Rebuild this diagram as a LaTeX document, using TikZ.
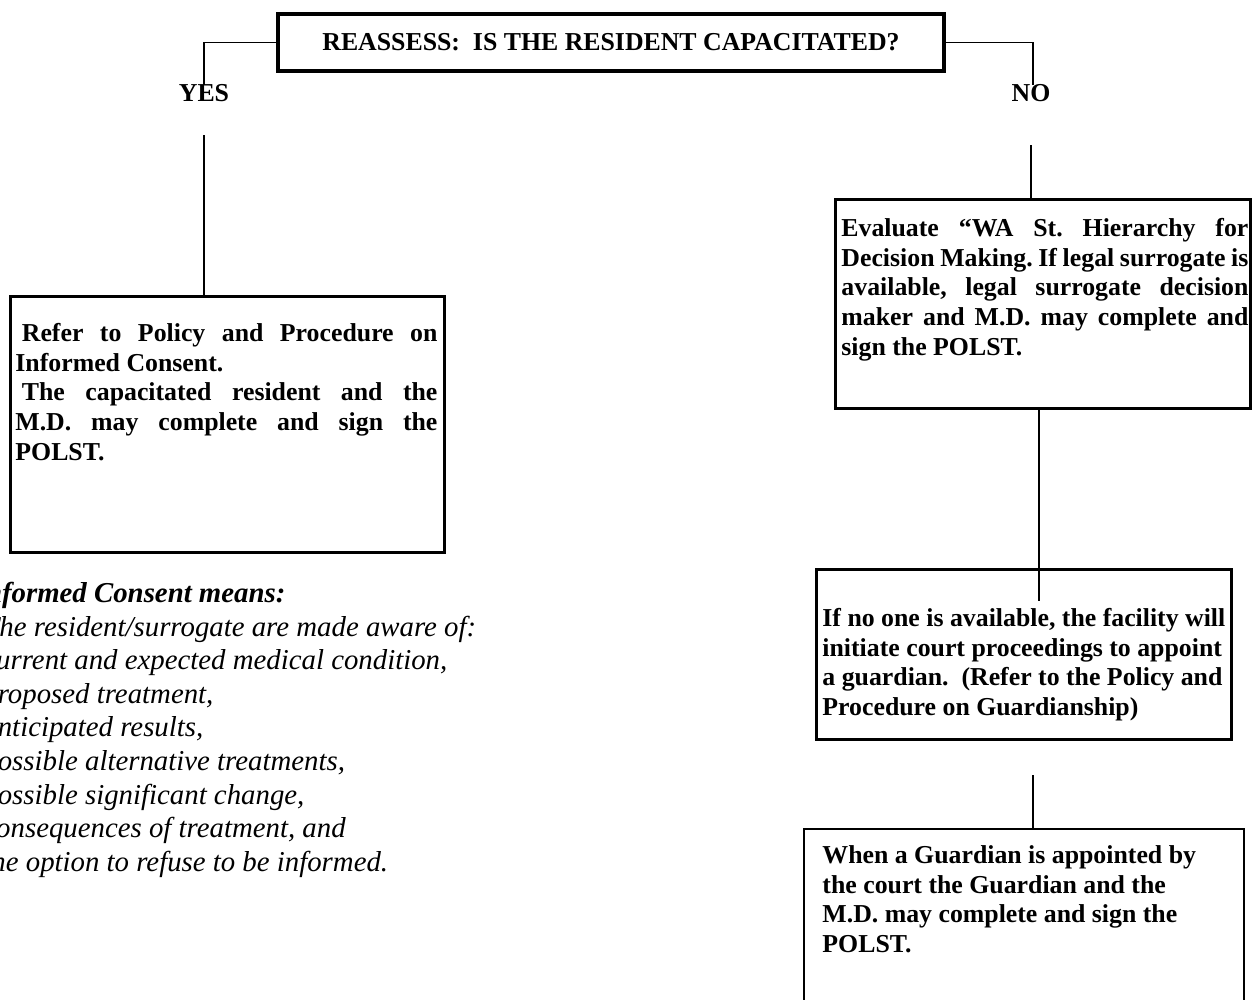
\documentclass[tikz,border=0pt]{standalone}
\usepackage{fontspec}
\setmainfont{Liberation Serif}
\hbadness=10000
\hfuzz=30pt
\frenchspacing
\begin{document}
\begin{tikzpicture}[x=0.465pt,y=-0.465pt,
  box/.style={draw,line width=1.5pt,rectangle,inner sep=0pt,anchor=north west},
  thinbox/.style={box,line width=0.7pt},
  link/.style={line width=0.8pt},
  body/.style={inner sep=0pt,anchor=north west,font=\fontsize{12}{13.8}\selectfont\bfseries},
  lbl/.style={inner sep=0pt,font=\fontsize{12}{13.8}\selectfont\bfseries},
  note/.style={inner sep=0pt,anchor=north west,align=left,font=\fontsize{13.4}{15.6}\selectfont\itshape}]
\useasboundingbox (0,0) rectangle (1253,999);
\clip (0,0) rectangle (1253,999);

% question box
\node[lbl,draw,line width=1.5pt,minimum width={666*0.465pt},minimum height={57*0.465pt}] (q) at (611,42.5)
  {REASSESS:\ \ IS THE RESIDENT CAPACITATED?};

% branches
\coordinate (yesend) at (204,85);
\coordinate (noend) at (1033,85);
\draw[link] (q.west) -| (yesend);
\draw[link] (q.east) -| (noend);
\node[lbl] (yes) at (204,93) {YES};
\node[lbl] (no) at (1031,93) {NO};

% YES side
\node[box,minimum width={434*0.465pt},minimum height={256*0.465pt}] (lb) at (9,295) {};
\coordinate (yesstart) at (204,135);
\draw[link] (yesstart) -- (yesstart |- lb.north);
\node[body,text width={422*0.465pt},align=justify] (lbt) at (15,323)
  {\hspace*{3pt}Refer to Policy and Procedure on\linebreak Informed Consent.\\
   \hspace*{3pt}The capacitated resident and the\linebreak M.D. may complete and sign the\linebreak POLST.};

\node[note] (ic) at (-17,582)
  {\hspace*{-4pt}{\bfseries Informed Consent means:}\\
   The resident/surrogate are made aware of:\\
   current and expected medical condition,\\
   proposed treatment,\\
   anticipated results,\\
   possible alternative treatments,\\
   possible significant change,\\
   consequences of treatment, and\\
   the option to refuse to be informed.};

% NO side
\node[box,minimum width={415*0.465pt},minimum height={209*0.465pt}] (r1) at (834,198) {};
\coordinate (nostart) at (1031,145);
\draw[link] (nostart) -- (nostart |- r1.north);
\node[body,text width={407*0.465pt},align=justify] (r1t) at (841,218)
  {Evaluate “WA St. Hierarchy for\linebreak Decision Making. If legal surrogate is\linebreak available, legal surrogate decision\linebreak maker and M.D. may complete and\linebreak sign the POLST.};

\node[box,minimum width={415*0.465pt},minimum height={170*0.465pt}] (r2) at (815,568) {};
\coordinate (r2in) at (1039,601);
\draw[link] (r1.south -| r2in) -- (r2in);
\node[body,align=left] (r2t) at (822,608)
  {If no one is available, the facility will\\
   initiate court proceedings to appoint\\
   a guardian.\ \ (Refer to the Policy and\\
   Procedure on Guardianship)};

\node[thinbox,minimum width={440*0.465pt},minimum height={190*0.465pt}] (r3) at (803,828) {};
\coordinate (r3top) at (1033,775);
\draw[link] (r3top) -- (r3top |- r3.north);
\node[body,align=left] (r3t) at (822,845)
  {When a Guardian is appointed by\\
   the court the Guardian and the\\
   M.D. may complete and sign the\\
   POLST.};
\end{tikzpicture}
\end{document}
